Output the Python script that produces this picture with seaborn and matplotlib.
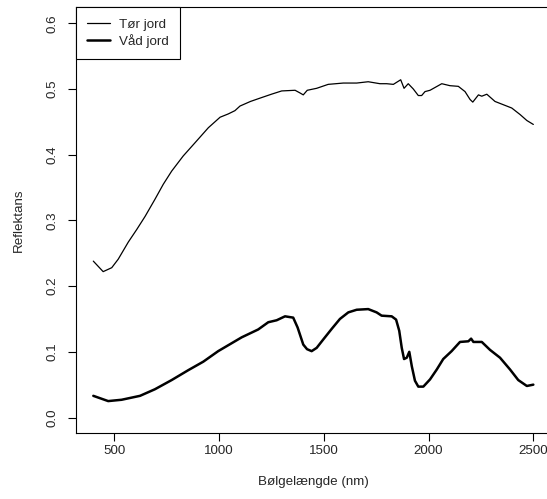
import matplotlib
matplotlib.use("Agg")
import matplotlib.pyplot as plt
import numpy as np
import pandas as pd
import seaborn as sns

# Reflectance spectra of dry and wet soil
dry_nm = [400, 447, 488, 519, 567, 607, 647, 694, 734, 774, 829, 885, 949, 1005,
          1044, 1076, 1100, 1150, 1195, 1250, 1299, 1363, 1386, 1402, 1421, 1466,
          1521, 1593, 1657, 1712, 1768, 1800, 1832, 1867, 1883, 1903, 1927, 1951,
          1967, 1983, 2007, 2063, 2102, 2142, 2174, 2198, 2211, 2238, 2254, 2278,
          2317, 2357, 2397, 2437, 2469, 2500]
dry_refl = [0.238, 0.222, 0.228, 0.241, 0.267, 0.286, 0.306, 0.332, 0.355, 0.375,
            0.398, 0.418, 0.441, 0.457, 0.462, 0.467, 0.474, 0.481, 0.486, 0.492,
            0.497, 0.498, 0.494, 0.491, 0.498, 0.501, 0.507, 0.509, 0.509, 0.511,
            0.508, 0.508, 0.507, 0.514, 0.501, 0.508, 0.500, 0.490, 0.490, 0.496,
            0.498, 0.508, 0.505, 0.504, 0.496, 0.484, 0.480, 0.491, 0.489, 0.492,
            0.481, 0.476, 0.471, 0.461, 0.452, 0.446]

wet_nm = [400, 471, 535, 623, 694, 774, 853, 925, 996, 1044, 1108, 1187, 1235,
          1275, 1315, 1354, 1375, 1402, 1420, 1442, 1466, 1498, 1538, 1577, 1617,
          1657, 1712, 1752, 1776, 1824, 1845, 1860, 1872, 1883, 1896, 1908, 1920,
          1935, 1951, 1975, 2007, 2039, 2070, 2110, 2150, 2190, 2203, 2214, 2254,
          2293, 2341, 2389, 2428, 2469, 2500]
wet_refl = [0.033, 0.025, 0.027, 0.033, 0.043, 0.057, 0.072, 0.085, 0.101, 0.110,
            0.122, 0.134, 0.145, 0.148, 0.154, 0.152, 0.137, 0.111, 0.104, 0.101,
            0.106, 0.119, 0.135, 0.150, 0.160, 0.164, 0.165, 0.160, 0.155, 0.154,
            0.149, 0.132, 0.106, 0.089, 0.091, 0.100, 0.078, 0.056, 0.047, 0.047,
            0.058, 0.073, 0.089, 0.101, 0.115, 0.116, 0.120, 0.115, 0.115, 0.103,
            0.091, 0.073, 0.057, 0.048, 0.050]

labels = ["Tør jord", "Våd jord"]
x_ticks = [500, 1000, 1500, 2000, 2500]
y_ticks = [0.0, 0.1, 0.2, 0.3, 0.4, 0.5, 0.6]

FS = 9.6

sns.set_style("ticks")
plt.rcParams["font.family"] = ["Liberation Sans", "DejaVu Sans"]
plt.rcParams["font.size"] = FS

dry = pd.DataFrame({"nm": dry_nm, "refl": dry_refl})
wet = pd.DataFrame({"nm": wet_nm, "refl": wet_refl})

fig = plt.figure(figsize=(5.47, 4.99), dpi=100)
ax = fig.add_axes([0.1384, 0.1317, 0.8688, 0.8533])

sns.lineplot(data=dry, x="nm", y="refl", ax=ax, color="black", linewidth=0.9,
             sort=False, estimator=None, label=labels[0])
sns.lineplot(data=wet, x="nm", y="refl", ax=ax, color="black", linewidth=1.8,
             sort=False, estimator=None, label=labels[1])

ax.set_xlim(316, 2584)
ax.set_ylim(-0.024, 0.624)
ax.set_xticks(x_ticks)
ax.set_xticklabels([str(t) for t in x_ticks])
ax.set_yticks(y_ticks)
ax.set_yticklabels([f"{t:.1f}" for t in y_ticks], rotation=90, va="center")

for side in ["left", "bottom", "top", "right"]:
    ax.spines[side].set_visible(True)
    ax.spines[side].set_linewidth(0.8)
    ax.spines[side].set_color("black")

ax.tick_params(axis="both", length=5.5, width=0.8, color="black", labelsize=FS)
ax.tick_params(axis="x", pad=3)
ax.tick_params(axis="y", pad=7)

ax.set_xlabel("Bølgelængde (nm)", fontsize=FS)
ax.set_ylabel("Reflektans", fontsize=FS)
ax.xaxis.set_label_coords(0.5, -0.1137)
ax.xaxis.label.set_va("center")
ax.yaxis.set_label_coords(-0.1193, 0.5)
ax.yaxis.label.set_va("center")

leg = ax.legend(loc="upper left", borderaxespad=0, frameon=True, fancybox=False,
                edgecolor="black", framealpha=1, handlelength=1.7,
                handletextpad=0.7, borderpad=0.85, labelspacing=0.22,
                fontsize=FS)
leg.get_frame().set_linewidth(0.8)

fig.savefig("out.png", dpi=100)
